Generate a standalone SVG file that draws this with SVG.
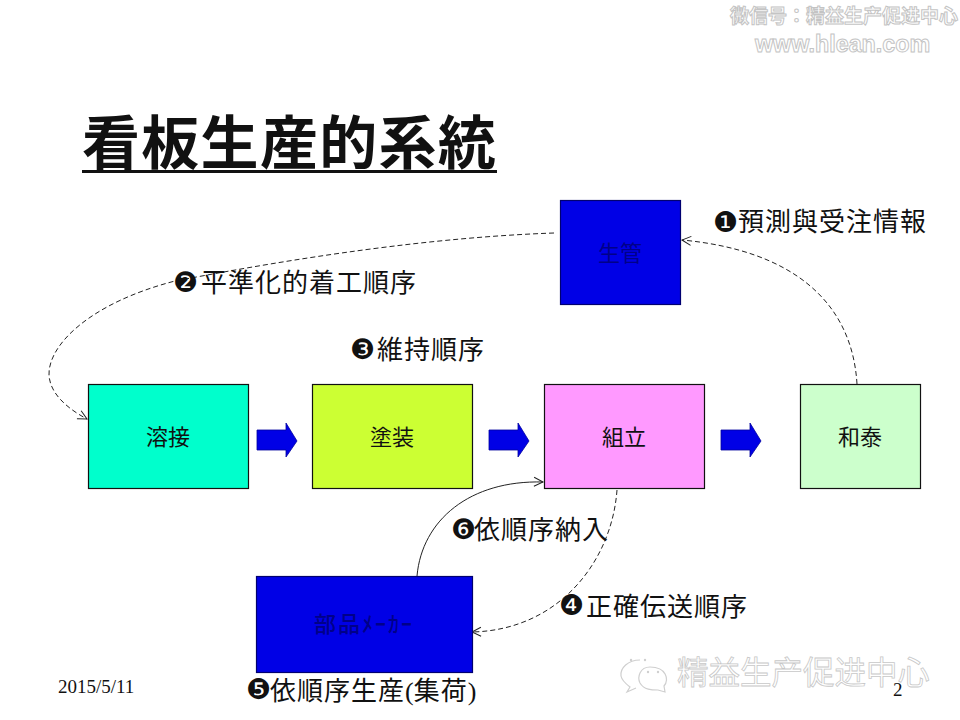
<svg xmlns="http://www.w3.org/2000/svg" width="960" height="720" viewBox="0 0 960 720">
<style>
text{font-family:"Noto Sans CJK JP","Noto Sans CJK TC","DejaVu Sans",sans-serif}
.box{stroke:#111;stroke-width:1.2}
.bl{fill:#0000e6;stroke:#000070;stroke-width:1.2}
.nt{font-size:22px;fill:#111;text-anchor:middle}
.dk{fill:#000088}
.lb{font-size:26px;fill:#111;letter-spacing:1px}
.n{font-family:"DejaVu Sans",sans-serif;font-size:28px;fill:#111}
.dash{fill:none;stroke:#222;stroke-width:1;stroke-dasharray:5 3}
.arr{fill:#0000e6;stroke:#0000a0;stroke-width:.8}
.wm{fill:#fff;stroke:#c4c4c4;stroke-width:1}
.wb{font-size:31.500px;fill:#fff;stroke:#c8c8c8;stroke-width:.8}
.date{font-family:"Liberation Serif",serif;font-size:19px;fill:#111}
</style>
<defs>
<marker id="o" markerWidth="12" markerHeight="12" refX="10" refY="6" orient="auto" markerUnits="userSpaceOnUse"><path d="M1 1.500L10 6L1 10.500" fill="none" stroke="#222" stroke-width="1"/></marker>
</defs>
<rect width="960" height="720" fill="#fff"/>
<g id="watermark-top">
<text class="wm" x="730" y="23" font-size="19" font-weight="700">微信号：精益生产促进中心</text>
<text class="wm" x="755" y="52" font-size="23.300" font-weight="700" style="font-family:'Liberation Sans',sans-serif">www.hlean.com</text>
</g>
<g id="title">
<text x="82" y="164" font-size="58" font-weight="700" fill="#111" letter-spacing="1.300">看板生産的系統</text>
<rect x="82" y="170" width="415" height="3" fill="#111"/>
</g>
<g id="connectors">
<path class="dash" d="M857 384C852 300 790 250 682 240" marker-end="url(#o)"/>
<path class="dash" d="M554 233C410 238 260 265 175 281C90 303 48 345 49 375C50 395 70 410 87 419" marker-end="url(#o)"/>
<path class="dash" d="M617 490C612 560 560 630 472 632" marker-end="url(#o)"/>
<path d="M417 576C422 520 470 480 543 482" fill="none" stroke="#222" stroke-width="1" marker-end="url(#o)"/>
<path class="arr" d="M257 430H286V423L297 441L286 457V450H257Z"/>
<path class="arr" d="M489 430H518V423L529 441L518 457V450H489Z"/>
<path class="arr" d="M721 430H750V423L761 441L750 457V450H721Z"/>
</g>
<g id="seikan"><rect class="bl" x="560.500" y="200.500" width="120" height="104"/><text class="nt dk" x="620" y="261">生管</text></g>
<g id="yosetsu"><rect class="box" x="88.500" y="384.500" width="160" height="104" fill="#00ffcc"/><text class="nt" x="168" y="445">溶接</text></g>
<g id="toso"><rect class="box" x="312.500" y="384.500" width="160" height="104" fill="#ccff33"/><text class="nt" x="392" y="445">塗装</text></g>
<g id="kumitate"><rect class="box" x="544.500" y="384.500" width="160" height="104" fill="#ff99ff"/><text class="nt" x="624" y="445">組立</text></g>
<g id="wataru"><rect class="box" x="800.500" y="384.500" width="120" height="104" fill="#ccffcc"/><text class="nt" x="860" y="445">和泰</text></g>
<g id="buhin"><rect class="bl" x="256.500" y="576.500" width="216" height="96"/><text class="nt dk" x="364" y="632" letter-spacing="2" font-weight="500">部品ﾒｰｶｰ</text></g>
<g id="labels">
<text class="n" x="713" y="232">❶</text><text class="lb" x="738" y="231">預測與受注情報</text>
<text class="n" x="173" y="292">❷</text><text class="lb" x="201" y="292">平準化的着工順序</text>
<text class="n" x="350" y="359">❸</text><text class="lb" x="377" y="359">維持順序</text>
<text class="n" x="559" y="615">❹</text><text class="lb" x="586" y="616">正確伝送順序</text>
<text class="n" x="246" y="699">❺</text><text class="lb" x="270" y="700">依順序生産<tspan style="font-family:'Liberation Serif',serif" letter-spacing="0">(</tspan>集荷<tspan style="font-family:'Liberation Serif',serif" letter-spacing="0">)</tspan></text>
<text class="n" x="451" y="539">❻</text><text class="lb" x="474" y="539">依順序納入</text>
</g>
<g id="watermark-bottom">
<path d="M640 660C628 660 620 668 621 676C622 681 626 684 630 687L627 692L636 688" fill="none" stroke="#cfcfcf" stroke-width="1.200"/>
<path d="M650 667C640 667 637 677 640 683C644 690 652 690 658 690L665 692L664 686C669 680 667 667 650 667Z" fill="#fff" stroke="#cfcfcf" stroke-width="1.200"/>
<g fill="#cfcfcf"><circle cx="631" cy="660" r="1.200"/><circle cx="645" cy="660" r="1.200"/><circle cx="648" cy="672" r="1.200"/><circle cx="658" cy="672" r="1.200"/></g>
<text class="wb" x="677" y="684">精益生产促进中</text>
<text class="wb" x="898" y="684">心</text>
</g>
<g id="footer">
<text class="date" x="58" y="693">2015/5/11</text>
<text class="date" x="893" y="696">2</text>
</g>
</svg>
